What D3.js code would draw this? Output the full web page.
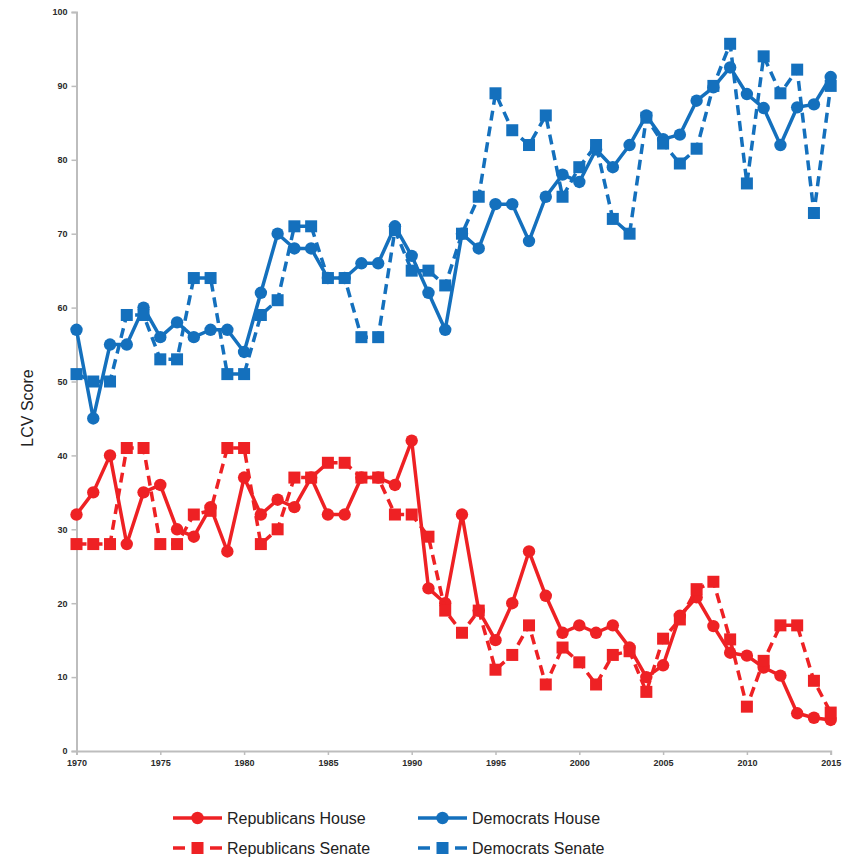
<!DOCTYPE html>
<html>
<head>
<meta charset="utf-8">
<script src="https://cdn.jsdelivr.net/npm/d3@7"></script>
<style>
  body { margin: 0; background: #fff; }
  svg { display: block; }
</style>
</head>
<body>
<div id="chart"></div>
<script>
// years 1970..2015
var years = d3.range(1970, 2016);

var repHouse = [32, 35, 40, 28, 35, 36, 30, 29, 33, 27, 37, 32, 34, 33, 37, 32, 32, 37, 37, 36,
  42, 22, 20, 32, 19, 15, 20, 27, 21, 16, 17, 16, 17, 14, 10, 11.6, 18.3, 20.8, 16.9, 13.3,
  12.9, 11.3, 10.2, 5.1, 4.5, 4.2];
var repSenate = [28, 28, 28, 41, 41, 28, 28, 32, 32.5, 41, 41, 28, 30, 37, 37, 39, 39, 37, 37, 32,
  32, 29, 19, 16, 19, 11, 13, 17, 9, 14, 12, 9, 13, 13.5, 8, 15.2, 17.8, 21.9, 22.9, 15.1,
  6, 12.2, 17, 17, 9.5, 5.2];
var demHouse = [57, 45, 55, 55, 60, 56, 58, 56, 57, 57, 54, 62, 70, 68, 68, 64, 64, 66, 66, 71,
  67, 62, 57, 70, 68, 74, 74, 69, 75, 78, 77, 81.4, 79, 82, 86, 82.8, 83.4, 88, 89.8, 92.5,
  88.9, 87, 82, 87.1, 87.5, 91.2];
var demSenate = [51, 50, 50, 59, 59, 53, 53, 64, 64, 51, 51, 59, 61, 71, 71, 64, 64, 56, 56, 70.5,
  65, 65, 63, 70, 75, 89, 84, 82, 86, 75, 79, 82, 72, 70, 85.7, 82.2, 79.5, 81.5, 90, 95.7,
  76.8, 94, 89, 92.2, 72.8, 90];

var yTicks = [0, 10, 20, 30, 40, 50, 60, 70, 80, 90, 100];
var xTicks = [1970, 1975, 1980, 1985, 1990, 1995, 2000, 2005, 2010, 2015];

var red = "#ee2124", blue = "#1470bd";

var series = [
  { name: "Republicans House", values: repHouse, color: red, dashed: false, shape: "circle" },
  { name: "Republicans Senate", values: repSenate, color: red, dashed: true, shape: "square" },
  { name: "Democrats House", values: demHouse, color: blue, dashed: false, shape: "circle" },
  { name: "Democrats Senate", values: demSenate, color: blue, dashed: true, shape: "square" }
];

var width = 845, height = 860;
var svg = d3.select("#chart").append("svg")
  .attr("width", width)
  .attr("height", height);

var x = d3.scaleLinear().domain([1970, 2015]).range([76.5, 830.7]);
var y = d3.scaleLinear().domain([0, 100]).range([751, 12]);

// axes
var yAxis = svg.append("g")
  .attr("transform", "translate(" + x(1970) + ",0)")
  .call(d3.axisLeft(y).tickValues(yTicks).tickSize(5).tickPadding(4));
var xAxis = svg.append("g")
  .attr("transform", "translate(0," + y(0) + ")")
  .call(d3.axisBottom(x).tickValues(xTicks).tickFormat(d3.format("d")).tickSize(4).tickPadding(5));

[yAxis, xAxis].forEach(function(a) {
  a.select(".domain").attr("stroke", "#bdbdbd").attr("stroke-width", 2);
  a.selectAll(".tick line").attr("stroke", "#bdbdbd").attr("stroke-width", 1.5);
  a.selectAll(".tick text")
    .attr("fill", "#2b2b2b")
    .style("font-family", "Liberation Sans, Arial, sans-serif")
    .style("font-size", "9px")
    .style("font-weight", "bold");
});

svg.append("text")
  .attr("transform", "translate(33,408) rotate(-90)")
  .attr("text-anchor", "middle")
  .style("font-family", "Liberation Sans, Arial, sans-serif")
  .style("font-size", "16px")
  .attr("fill", "#222")
  .text("LCV Score");

var line = d3.line()
  .x(function(d) { return x(d.year); })
  .y(function(d) { return y(d.value); });

function drawMarker(g, shape, color, cx, cy) {
  if (shape === "circle") {
    g.append("circle").attr("cx", cx).attr("cy", cy).attr("r", 6.2).attr("fill", color);
  } else {
    g.append("rect").attr("x", cx - 6).attr("y", cy - 6).attr("width", 12).attr("height", 12).attr("fill", color);
  }
}

series.forEach(function(s) {
  var pts = years.map(function(yr, i) { return { year: yr, value: s.values[i] }; });
  var g = svg.append("g");
  g.append("path")
    .datum(pts)
    .attr("d", line)
    .attr("fill", "none")
    .attr("stroke", s.color)
    .attr("stroke-width", 3.5)
    .attr("stroke-linejoin", "round")
    .attr("stroke-dasharray", s.dashed ? "10,6" : null);
  pts.forEach(function(p) {
    drawMarker(g, s.shape, s.color, x(p.year), y(p.value));
  });
});

// legend
var legendPos = [
  { lx: 173, ly: 818 },
  { lx: 173, ly: 848 },
  { lx: 418, ly: 818 },
  { lx: 418, ly: 848 }
];
series.forEach(function(s, i) {
  var p = legendPos[i];
  var lg = svg.append("g");
  if (s.dashed) {
    lg.append("line").attr("x1", p.lx).attr("x2", p.lx + 12).attr("y1", p.ly).attr("y2", p.ly)
      .attr("stroke", s.color).attr("stroke-width", 3.5);
    lg.append("line").attr("x1", p.lx + 37).attr("x2", p.lx + 49).attr("y1", p.ly).attr("y2", p.ly)
      .attr("stroke", s.color).attr("stroke-width", 3.5);
  } else {
    lg.append("line").attr("x1", p.lx).attr("x2", p.lx + 49).attr("y1", p.ly).attr("y2", p.ly)
      .attr("stroke", s.color).attr("stroke-width", 3.5);
  }
  drawMarker(lg, s.shape, s.color, p.lx + 24.5, p.ly);
  lg.append("text")
    .attr("x", p.lx + 54)
    .attr("y", p.ly)
    .attr("dy", "0.35em")
    .style("font-family", "Liberation Sans, Arial, sans-serif")
    .style("font-size", "16px")
    .attr("fill", "#222")
    .text(s.name);
});
</script>
</body>
</html>
